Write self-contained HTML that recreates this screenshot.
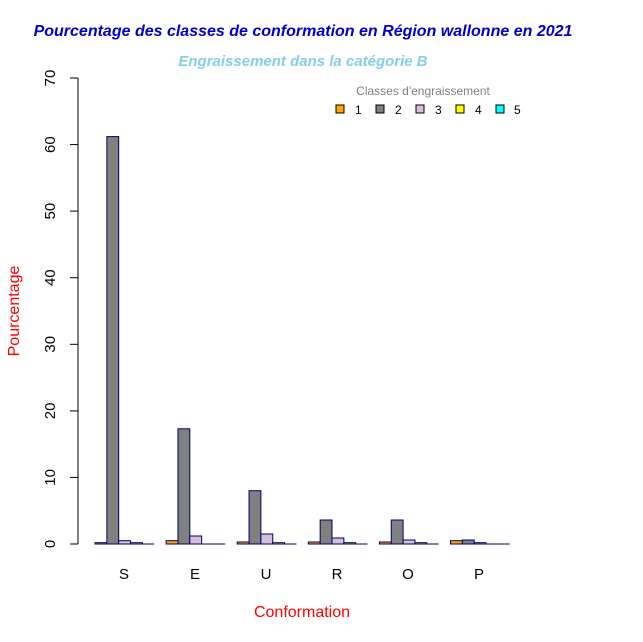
<!DOCTYPE html>
<html><head><meta charset="utf-8"><style>body{margin:0;background:#fff}svg{display:block}text{font-family:"Liberation Sans",Arial,sans-serif}</style></head>
<body>
<svg width="643" height="642" xmlns="http://www.w3.org/2000/svg">
<rect width="643" height="642" fill="#fff"/>
<text x="303" y="36" text-anchor="middle" font-size="16" font-weight="bold" font-style="italic" fill="#0000CD">Pourcentage des classes de conformation en Région wallonne en 2021</text>
<text x="303" y="66" text-anchor="middle" font-size="15" font-weight="bold" font-style="italic" fill="#87CEEB">Engraissement dans la catégorie B</text>
<g stroke="#000" stroke-width="1">
<line x1="78" y1="78" x2="78" y2="544"/>
<line x1="70" y1="544" x2="78" y2="544"/><line x1="70" y1="477.4" x2="78" y2="477.4"/><line x1="70" y1="410.9" x2="78" y2="410.9"/><line x1="70" y1="344.3" x2="78" y2="344.3"/><line x1="70" y1="277.7" x2="78" y2="277.7"/><line x1="70" y1="211.1" x2="78" y2="211.1"/><line x1="70" y1="144.6" x2="78" y2="144.6"/><line x1="70" y1="78" x2="78" y2="78"/>
</g>
<g font-size="15" fill="#000" text-anchor="middle">
<text transform="translate(55,544) rotate(-90)">0</text>
<text transform="translate(55,477.4) rotate(-90)">10</text>
<text transform="translate(55,410.9) rotate(-90)">20</text>
<text transform="translate(55,344.3) rotate(-90)">30</text>
<text transform="translate(55,277.7) rotate(-90)">40</text>
<text transform="translate(55,211.1) rotate(-90)">50</text>
<text transform="translate(55,144.6) rotate(-90)">60</text>
<text transform="translate(55,78) rotate(-90)">70</text>
</g>
<text transform="translate(19,311) rotate(-90)" text-anchor="middle" font-size="16" fill="#FF0000">Pourcentage</text>
<text x="302" y="617" text-anchor="middle" font-size="16" fill="#FF0000">Conformation</text>
<g font-size="15" text-anchor="middle" fill="#000">
<text x="124" y="579">S</text><text x="195" y="579">E</text><text x="266" y="579">U</text><text x="337" y="579">R</text><text x="408" y="579">O</text><text x="479" y="579">P</text>
</g>
<g stroke="#000066" stroke-width="1">
<line x1="95" y1="544" x2="154.2" y2="544"/><line x1="166.1" y1="544" x2="225.3" y2="544"/><line x1="237.2" y1="544" x2="296.4" y2="544"/><line x1="308.3" y1="544" x2="367.5" y2="544"/><line x1="379.4" y1="544" x2="438.6" y2="544"/><line x1="450.5" y1="544" x2="509.7" y2="544"/>
<rect x="95" y="542.7" width="11.85" height="1.3" fill="#FFA500"/>
<rect x="106.85" y="136.6" width="11.85" height="407.4" fill="#808080"/>
<rect x="118.7" y="540.7" width="11.85" height="3.3" fill="#D8BFD8"/>
<rect x="130.55" y="542.7" width="11.85" height="1.3" fill="#FFFF00"/>
<rect x="166.1" y="540.7" width="11.85" height="3.3" fill="#FFA500"/>
<rect x="177.95" y="428.8" width="11.85" height="115.2" fill="#808080"/>
<rect x="189.8" y="536" width="11.85" height="8" fill="#D8BFD8"/>
<rect x="237.2" y="542" width="11.85" height="2" fill="#FFA500"/>
<rect x="249.05" y="490.7" width="11.85" height="53.3" fill="#808080"/>
<rect x="260.9" y="534" width="11.85" height="10" fill="#D8BFD8"/>
<rect x="272.75" y="542.7" width="11.85" height="1.3" fill="#FFFF00"/>
<rect x="308.3" y="542" width="11.85" height="2" fill="#FFA500"/>
<rect x="320.15" y="520" width="11.85" height="24" fill="#808080"/>
<rect x="332" y="538" width="11.85" height="6" fill="#D8BFD8"/>
<rect x="343.85" y="542.7" width="11.85" height="1.3" fill="#FFFF00"/>
<rect x="379.4" y="542" width="11.85" height="2" fill="#FFA500"/>
<rect x="391.25" y="520" width="11.85" height="24" fill="#808080"/>
<rect x="403.1" y="540" width="11.85" height="4" fill="#D8BFD8"/>
<rect x="414.95" y="542.7" width="11.85" height="1.3" fill="#FFFF00"/>
<rect x="450.5" y="540.7" width="11.85" height="3.3" fill="#FFA500"/>
<rect x="462.35" y="540" width="11.85" height="4" fill="#808080"/>
<rect x="474.2" y="542.7" width="11.85" height="1.3" fill="#D8BFD8"/>
</g>
<text x="423" y="95" text-anchor="middle" font-size="12" fill="#808080">Classes d'engraissement</text>
<g stroke="#000" stroke-width="1">
<rect x="336" y="105" width="8" height="8" fill="#FFA500"/>
<rect x="376" y="105" width="8" height="8" fill="#808080"/>
<rect x="416" y="105" width="8" height="8" fill="#D8BFD8"/>
<rect x="456" y="105" width="8" height="8" fill="#FFFF00"/>
<rect x="496" y="105" width="8" height="8" fill="#00FFFF"/>
</g>
<g font-size="12" fill="#000">
<text x="355" y="114">1</text><text x="395" y="114">2</text><text x="435" y="114">3</text><text x="475" y="114">4</text><text x="514" y="114">5</text>
</g>
</svg>
</body></html>
